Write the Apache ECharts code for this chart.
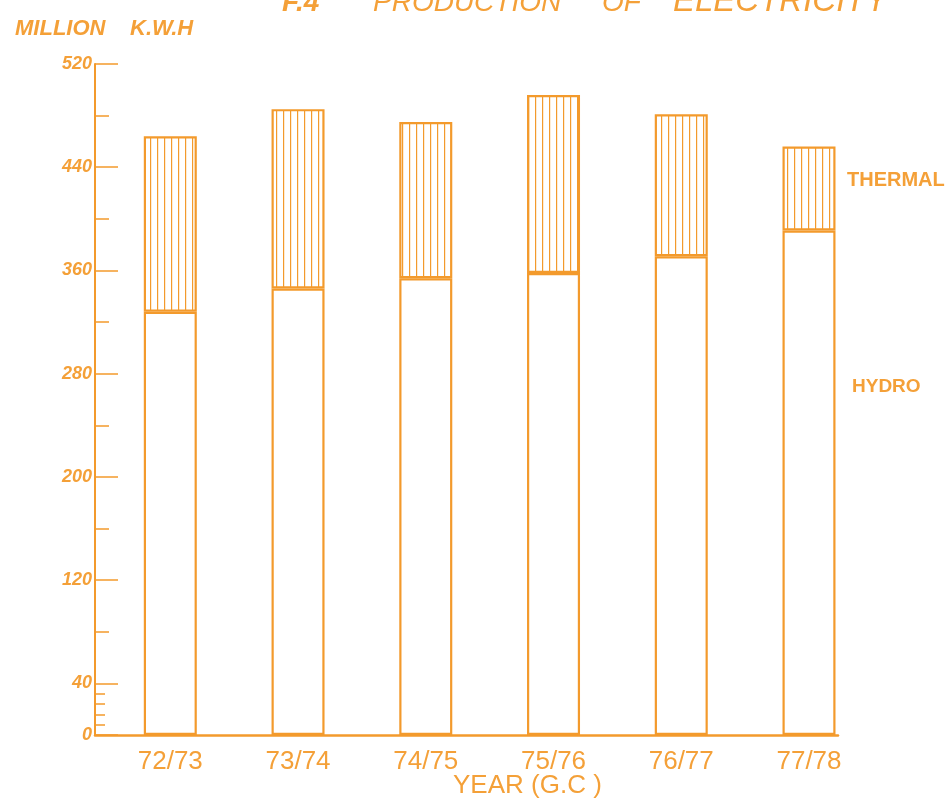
<!DOCTYPE html>
<html>
<head>
<meta charset="utf-8">
<script src="https://cdn.jsdelivr.net/npm/echarts@6/dist/echarts.min.js"></script>
<style>
html,body{margin:0;padding:0;background:#fff;}
#chart{width:951px;height:799px;}
</style>
</head>
<body>
<div id="chart"></div>
<script>
// ---- data ----
const categories = ['72/73', '73/74', '74/75', '75/76', '76/77', '77/78'];
const hydro   = [328, 346, 354, 358, 371, 391];
const thermal = [136, 139, 121, 138, 110, 65];
const yLabelTicks = [0, 40, 120, 200, 280, 360, 440, 520];
const yMidTicks = [80, 160, 240, 320, 400, 480];
const ySmallTicks = [8, 16, 24, 32];

const ORANGE = '#F39A2C';
const TEXT = '#F4A038';

// vertical hatch pattern for thermal
const pc = document.createElement('canvas');
pc.width = 7; pc.height = 8;
const pctx = pc.getContext('2d');
pctx.fillStyle = '#ffffff'; pctx.fillRect(0, 0, 7, 8);
pctx.fillStyle = ORANGE; pctx.fillRect(3, 0, 1.2, 8);

const chart = echarts.init(document.getElementById('chart'), null, {renderer: 'canvas'});

const tickY = (ticks, len) => ({
  type: 'value', gridIndex: 1, min: 0, max: 520, position: 'left',
  splitLine: {show: false},
  axisLine: {show: false, onZero: false},
  axisTick: {show: true, inside: true, length: len, customValues: ticks, lineStyle: {color: ORANGE, width: 1.5}},
  axisLabel: {show: false}
});

chart.setOption({
  backgroundColor: '#ffffff',
  animation: false,
  grid: [
    {left: 106.43, right: 78.13, top: 64, bottom: 64},
    {left: 95, right: 113, top: 64, bottom: 64}
  ],
  xAxis: [
    {
      type: 'category', gridIndex: 0, data: categories, boundaryGap: true,
      axisLine: {show: false}, axisTick: {show: false}, splitLine: {show: false},
      axisLabel: {color: TEXT, fontSize: 26, fontFamily: 'Liberation Sans', margin: 14}
    },
    {
      type: 'value', gridIndex: 1, min: 0, max: 1,
      axisLine: {show: true, onZero: false, lineStyle: {color: ORANGE, width: 2.5}},
      axisTick: {show: false}, axisLabel: {show: false}, splitLine: {show: false}
    }
  ],
  yAxis: [
    {
      type: 'value', gridIndex: 0, min: 0, max: 520, show: false
    },
    {
      type: 'value', gridIndex: 1, min: 0, max: 520, position: 'left',
      splitLine: {show: false},
      axisLine: {show: true, onZero: false, lineStyle: {color: ORANGE, width: 2}},
      axisTick: {show: true, inside: true, length: 23, customValues: yLabelTicks, lineStyle: {color: ORANGE, width: 1.5}},
      axisLabel: {customValues: yLabelTicks, color: TEXT, fontSize: 18, fontStyle: 'italic', fontWeight: 'bold', fontFamily: 'Liberation Sans', margin: 3}
    },
    tickY(yMidTicks, 14),
    tickY(ySmallTicks, 10)
  ],
  series: [
    {
      name: 'HYDRO', type: 'bar', stack: 'total', barWidth: 53,
      xAxisIndex: 0, yAxisIndex: 0,
      data: hydro,
      itemStyle: {color: '#ffffff', borderColor: ORANGE, borderWidth: 2.2}
    },
    {
      name: 'THERMAL', type: 'bar', stack: 'total', barWidth: 53,
      xAxisIndex: 0, yAxisIndex: 0,
      data: thermal,
      itemStyle: {color: {image: pc, repeat: 'repeat'}, borderColor: ORANGE, borderWidth: 2.2}
    }
  ],
  graphic: [
    {type: 'text', x: 282, y: 3, style: {text: 'F.4', font: 'italic bold 28px "Liberation Sans"', fill: TEXT, verticalAlign: 'middle'}},
    {type: 'text', x: 373, y: 3, style: {text: 'PRODUCTION', font: 'italic 28px "Liberation Sans"', fill: TEXT, verticalAlign: 'middle'}},
    {type: 'text', x: 602, y: 3, style: {text: 'OF', font: 'italic 28px "Liberation Sans"', fill: TEXT, verticalAlign: 'middle'}},
    {type: 'text', x: 673, y: 1.5, style: {text: 'ELECTRICITY', font: 'italic 33px "Liberation Sans"', fill: TEXT, verticalAlign: 'middle'}},
    {type: 'text', x: 15, y: 29, style: {text: 'MILLION', font: 'italic bold 22px "Liberation Sans"', fill: TEXT, verticalAlign: 'middle'}},
    {type: 'text', x: 130, y: 29, style: {text: 'K.W.H', font: 'italic bold 22px "Liberation Sans"', fill: TEXT, verticalAlign: 'middle'}},
    {type: 'text', x: 847, y: 180, style: {text: 'THERMAL', font: 'bold 20px "Liberation Sans"', fill: TEXT, verticalAlign: 'middle'}},
    {type: 'text', x: 852, y: 387, style: {text: 'HYDRO', font: 'bold 19px "Liberation Sans"', fill: TEXT, verticalAlign: 'middle'}},
    {type: 'text', x: 453, y: 786, style: {text: 'YEAR (G.C )', font: '26px "Liberation Sans"', fill: TEXT, verticalAlign: 'middle'}}
  ]
});
</script>
</body>
</html>
